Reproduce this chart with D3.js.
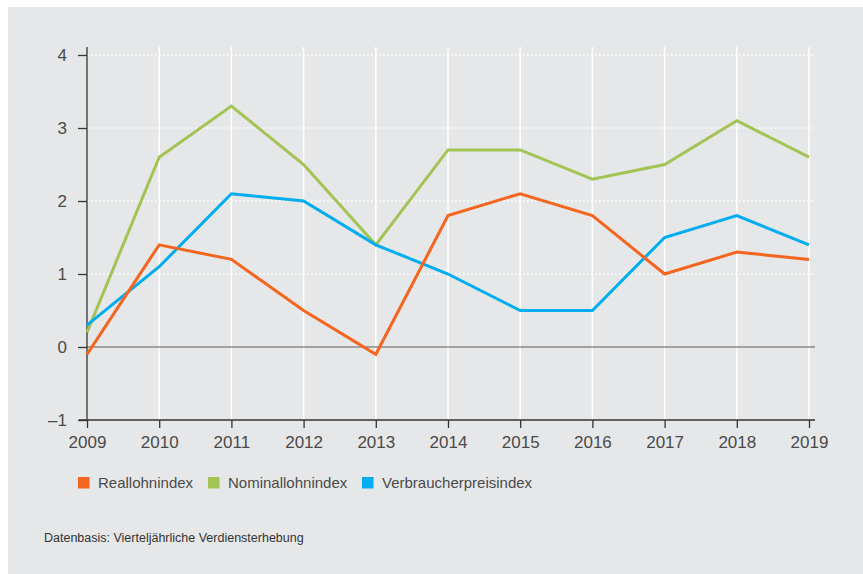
<!DOCTYPE html>
<html><head><meta charset="utf-8">
<script src="https://cdn.jsdelivr.net/npm/d3@7"></script>
<style>
html,body{margin:0;padding:0;background:#fff;}
svg{display:block;font-family:"Liberation Sans",Arial,Helvetica,sans-serif;}
</style></head><body>
<svg id="c" width="863" height="574"></svg>
<script>
const years = [2009,2010,2011,2012,2013,2014,2015,2016,2017,2018,2019];
const reallohn = [-0.1,1.4,1.2,0.5,-0.1,1.8,2.1,1.8,1.0,1.3,1.2];
const nominallohn = [0.2,2.6,3.3,2.5,1.4,2.7,2.7,2.3,2.5,3.1,2.6];
const vpi = [0.3,1.1,2.1,2.0,1.4,1.0,0.5,0.5,1.5,1.8,1.4];
const yTicks = [-1,0,1,2,3,4];
const seriesNames = ["Reallohnindex","Nominallohnindex","Verbraucherpreisindex"];
const seriesColors = ["#f4661f","#a3c455","#00aeef"];
const footnote = "Datenbasis: Vierteljährliche Verdiensterhebung";

const svg = d3.select("#c");
svg.append("rect").attr("x",8).attr("y",7).attr("width",855).attr("height",567).attr("fill","#e6e7e8");

const x = d3.scaleLinear().domain([2009,2019]).range([87,809]);
const y = d3.scaleLinear().domain([-1,4]).range([420,55]);

// vertical white gridlines
svg.append("g").selectAll("line").data(years.slice(1)).join("line")
  .attr("x1",d=>x(d)).attr("x2",d=>x(d)).attr("y1",47).attr("y2",420)
  .attr("stroke","#fff").attr("stroke-width",1.5);
// horizontal dotted gridlines
svg.append("g").selectAll("line").data(yTicks.filter(d=>d>0)).join("line")
  .attr("x1",87).attr("x2",814).attr("y1",d=>y(d)).attr("y2",d=>y(d))
  .attr("stroke","#fff").attr("stroke-width",1.6).attr("stroke-dasharray","1.6,2.4");
// zero line
svg.append("line").attr("x1",87).attr("x2",815).attr("y1",y(0)).attr("y2",y(0))
  .attr("stroke","#8a8a8a").attr("stroke-width",1.3);

// axes
const yAxis = svg.append("g").attr("transform","translate(87,0)")
  .call(d3.axisLeft(y).tickValues(yTicks).tickSize(9).tickPadding(11)
    .tickFormat(d=> d<0 ? "\u2013"+Math.abs(d) : d));
yAxis.select(".domain").attr("d","M0,47V420").attr("stroke","#333").attr("stroke-width",1.3);
yAxis.selectAll(".tick line").attr("stroke","#333").attr("stroke-width",1.3);
yAxis.selectAll("text").attr("font-size",17).attr("fill","#4a4a4a").attr("font-family","Liberation Sans,Arial,sans-serif");

const xAxis = svg.append("g").attr("transform","translate(0,420)")
  .call(d3.axisBottom(x).tickValues(years).tickSize(8).tickPadding(8).tickFormat(d3.format("d")));
xAxis.select(".domain").attr("d","M79,0H815").attr("stroke","#333").attr("stroke-width",1.3);
xAxis.selectAll(".tick line").attr("stroke","#333").attr("stroke-width",1.3);
xAxis.selectAll("text").attr("font-size",17).attr("fill","#4a4a4a").attr("font-family","Liberation Sans,Arial,sans-serif");

// lines
const data = [reallohn, nominallohn, vpi];
const line = d3.line().x((d,i)=>x(years[i])).y(d=>y(d));
// draw order: green, blue, orange
[1,2,0].forEach(k=>{
  svg.append("path").attr("d",line(data[k])).attr("fill","none")
    .attr("stroke",seriesColors[k]).attr("stroke-width",3).attr("stroke-linejoin","miter");
});

// legend
const legX = [78,208,362];
const lg = svg.append("g");
seriesNames.forEach((n,i)=>{
  lg.append("rect").attr("x",legX[i]).attr("y",477).attr("width",11.5).attr("height",11.5).attr("fill",seriesColors[i]);
  lg.append("text").attr("x",legX[i]+20).attr("y",488).attr("font-size",15).attr("fill","#4a4a4a").text(n);
});

svg.append("text").attr("x",44).attr("y",542).attr("font-size",12.5).attr("fill","#333").text(footnote);
</script>
</body></html>
